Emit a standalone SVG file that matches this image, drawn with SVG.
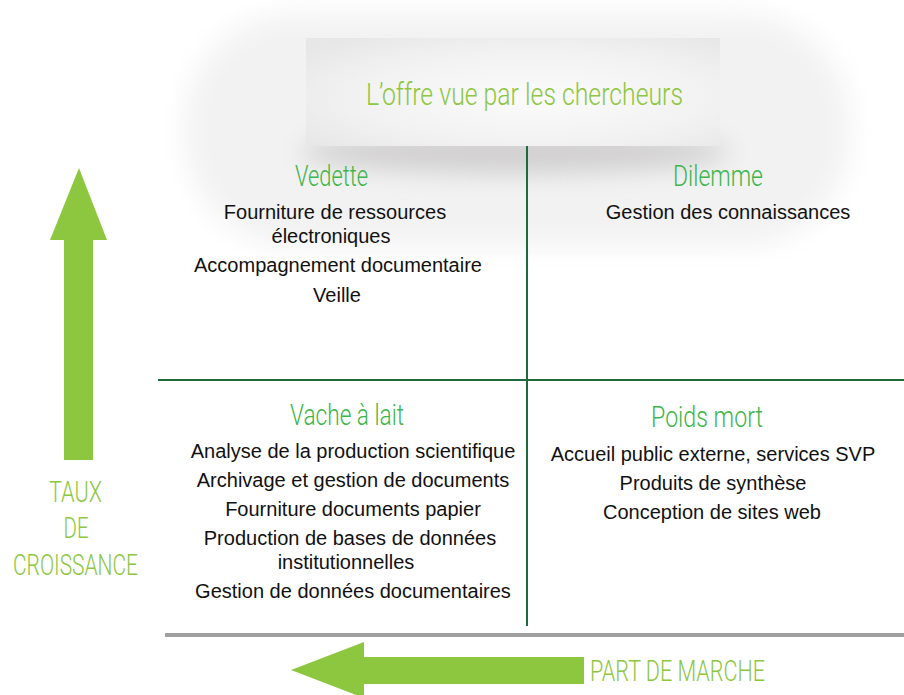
<svg xmlns="http://www.w3.org/2000/svg" width="904" height="695" viewBox="0 0 904 695">
<defs>
<style>
.cond{font-family:Roboto,"Liberation Sans",sans-serif;font-weight:300;text-anchor:middle}
.ttl{fill:#8dc63f;font-size:32px}
.hd{fill:#3db54a;font-size:30px}
.ax{fill:#8dc63f;font-size:30px}
.body{font-family:"Liberation Sans",Arial,sans-serif;font-size:20px;fill:#111;text-anchor:middle}
.grid{stroke:#1d6b3d;stroke-width:2;fill:none}
.arrow{fill:#8dc63f}
</style>
<filter id="blurBig" x="-30%" y="-50%" width="160%" height="200%"><feGaussianBlur stdDeviation="14"/></filter>
<filter id="blurShadow" x="-30%" y="-100%" width="160%" height="300%"><feGaussianBlur stdDeviation="12"/></filter>
<radialGradient id="boxGrad" cx="0.55" cy="0.55" r="0.7">
<stop offset="0" stop-color="#fbfbfb"/>
<stop offset="0.6" stop-color="#f2f2f3"/>
<stop offset="1" stop-color="#e7e7e8"/>
</radialGradient>
</defs>
<rect width="904" height="695" fill="#ffffff"/>

<g id="title">
<rect x="185" y="14" width="665" height="232" rx="110" fill="#f2f2f2" filter="url(#blurBig)"/>
<ellipse cx="515" cy="152" rx="215" ry="22" fill="#d2d0d0" filter="url(#blurShadow)"/>
<rect x="306" y="38" width="414" height="108" fill="url(#boxGrad)"/>
<text class="cond ttl" x="524.5" y="105" textLength="317" lengthAdjust="spacingAndGlyphs">L’offre vue par les chercheurs</text>
</g>

<g id="connectors">
<line class="grid" x1="527" y1="146" x2="527" y2="626"/>
<line class="grid" x1="158" y1="380" x2="904" y2="380"/>
<line x1="165" y1="635" x2="904" y2="635" stroke="#a0a0a0" stroke-width="4"/>
</g>

<g id="vedette">
<text class="cond hd" x="331.5" y="186" textLength="73" lengthAdjust="spacingAndGlyphs">Vedette</text>
<text class="body" x="335" y="219">Fourniture de ressources</text>
<text class="body" x="331" y="243">électroniques</text>
<text class="body" x="338" y="272">Accompagnement documentaire</text>
<text class="body" x="337" y="302">Veille</text>
</g>

<g id="dilemme">
<text class="cond hd" x="718" y="186" textLength="90" lengthAdjust="spacingAndGlyphs">Dilemme</text>
<text class="body" x="728" y="219">Gestion des connaissances</text>
</g>

<g id="vache">
<text class="cond hd" x="347" y="425" textLength="114" lengthAdjust="spacingAndGlyphs">Vache à lait</text>
<text class="body" x="353" y="458">Analyse de la production scientifique</text>
<text class="body" x="353" y="487">Archivage et gestion de documents</text>
<text class="body" x="353" y="516">Fourniture documents papier</text>
<text class="body" x="350" y="545">Production de bases de données</text>
<text class="body" x="346" y="569">institutionnelles</text>
<text class="body" x="353" y="598">Gestion de données documentaires</text>
</g>

<g id="poids">
<text class="cond hd" x="707" y="427" textLength="112" lengthAdjust="spacingAndGlyphs">Poids mort</text>
<text class="body" x="713" y="461">Accueil public externe, services SVP</text>
<text class="body" x="713" y="490">Produits de synthèse</text>
<text class="body" x="712" y="519">Conception de sites web</text>
</g>

<g id="axis-y">
<polygon class="arrow" points="79,168 107,240 93,240 93,460 64,460 64,240 50,240"/>
<text class="cond ax" x="75.5" y="502" textLength="53" lengthAdjust="spacingAndGlyphs">TAUX</text>
<text class="cond ax" x="76" y="538" textLength="25" lengthAdjust="spacingAndGlyphs">DE</text>
<text class="cond ax" x="75.5" y="575" textLength="125" lengthAdjust="spacingAndGlyphs">CROISSANCE</text>
</g>

<g id="axis-x">
<polygon class="arrow" points="291,670 364,642 364,657 584,657 584,684 364,684 364,698"/>
<text class="cond ax" x="677.5" y="681" font-size="28" textLength="175" lengthAdjust="spacingAndGlyphs">PART DE MARCHE</text>
</g>
</svg>
